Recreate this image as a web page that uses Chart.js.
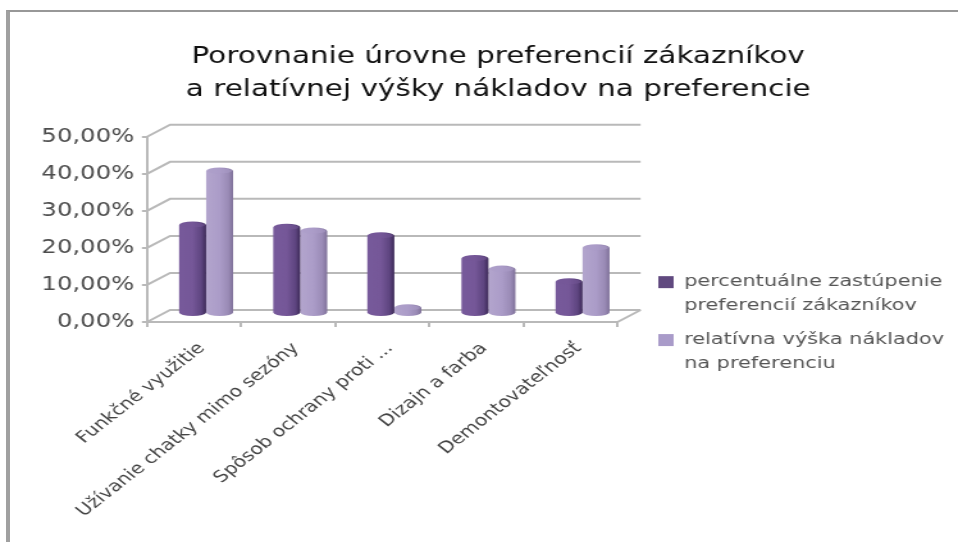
<!DOCTYPE html>
<html>
<head>
<meta charset="utf-8">
<style>
  html, body { margin: 0; padding: 0; background: #fff; overflow: hidden; }
  #frame { position: absolute; left: 6px; top: 10px; right: 0; bottom: 0; border-left: 4px solid #a0a0a0; border-top: 2px solid #989898; }
  /* The chart is drawn narrow and widened as a whole, which also widens its lettering. */
  #wrap { position: absolute; left: 0; top: 0; width: 748px; height: 542px; transform: scaleX(1.2807); transform-origin: 0 0; }
</style>
<script src="https://cdn.jsdelivr.net/npm/chart.js@4/dist/chart.umd.min.js"></script>
</head>
<body>
<div id="frame"></div>
<div id="wrap"><canvas id="c" width="748" height="542"></canvas></div>
<script>
const categories = ['Funkčné využitie', 'Užívanie chatky mimo sezóny', 'Spôsob ochrany proti ...', 'Dizajn a farba', 'Demontovateľnosť'];
const customerShare = [25.5, 24.9, 22.6, 16.5, 10.2];
const relativeCost = [40.1, 23.9, 3.2, 13.6, 19.4];
const seriesNames = [['percentuálne zastúpenie', 'preferencií zákazníkov'], ['relatívna výška nákladov', 'na preferenciu']];
const titleLines = ['Porovnanie úrovne preferencií zákazníkov', 'a relatívnej výšky nákladov na preferencie'];

// Oblique depth of the pseudo-3D floor and the plane the columns stand on.
const DEPTH_X = 18, DEPTH_Y = -12;
const BAR_SHIFT_X = 9.4, BAR_SHIFT_Y = -6;
const GRID = '#b9b9b9';
const SHADES = [
  ['#775a9b', '#755798', '#5e4580', '#3d2a58'],
  ['#b3a5cd', '#ab9cc8', '#9a8bb6', '#7f7199']
];

const depthFrame = {
  id: 'depthFrame',
  beforeDatasetsDraw(chart) {
    const { ctx, scales: { x, y } } = chart;
    ctx.save();
    ctx.strokeStyle = GRID;
    ctx.lineWidth = 2;
    y.ticks.forEach(t => {
      const py = y.getPixelForValue(t.value);
      ctx.beginPath();
      ctx.moveTo(x.left, py);
      ctx.lineTo(x.left + DEPTH_X, py + DEPTH_Y);
      ctx.lineTo(x.right + DEPTH_X, py + DEPTH_Y);
      ctx.stroke();
    });
    const base = y.getPixelForValue(0);
    ctx.beginPath();
    ctx.moveTo(x.right, base);
    ctx.lineTo(x.right + DEPTH_X, base + DEPTH_Y);
    ctx.stroke();
    ctx.restore();
  }
};

// Columns are painted as shaded cylinders from the geometry the bar elements computed.
const cylinders = {
  id: 'cylinders',
  beforeDatasetDraw(chart, args) {
    const { ctx } = chart;
    const shades = SHADES[args.index];
    args.meta.data.forEach(el => {
      const w = el.width, l = el.x - w / 2 + BAR_SHIFT_X, r = l + w;
      const ry = 3.5;
      const top = el.y + BAR_SHIFT_Y + ry, bot = el.base + BAR_SHIFT_Y - ry + 1;
      const g = ctx.createLinearGradient(l, 0, r, 0);
      g.addColorStop(0, shades[0]);
      g.addColorStop(0.5, shades[1]);
      g.addColorStop(0.82, shades[2]);
      g.addColorStop(1, shades[3]);
      ctx.save();
      ctx.fillStyle = g;
      ctx.beginPath();
      ctx.moveTo(l, top);
      ctx.lineTo(l, bot);
      ctx.ellipse(el.x + BAR_SHIFT_X, bot, w / 2, ry, 0, Math.PI, 0, true);
      ctx.lineTo(r, top);
      ctx.ellipse(el.x + BAR_SHIFT_X, top, w / 2, ry, 0, 0, Math.PI, true);
      ctx.closePath();
      ctx.fill();
      ctx.fillStyle = shades[1];
      ctx.globalAlpha = 0.55;
      ctx.beginPath();
      ctx.ellipse(el.x + BAR_SHIFT_X, top, w / 2 - 1, ry - 1, 0, 0, Math.PI * 2);
      ctx.fill();
      ctx.restore();
    });
    return false;
  }
};

// Title and legend sit outside the plot's own column, so their boxes are moved after layout.
const placeBlocks = {
  id: 'placeBlocks',
  afterLayout(chart) {
    const t = chart.titleBlock;
    t.left = 30; t.right = 748; t.width = 718;
    const lg = chart.legend;
    lg.left = 504; lg.right = 748; lg.width = 244;
    lg.top = 264; lg.bottom = 385; lg.height = 121;
  }
};

new Chart(document.getElementById('c'), {
  type: 'bar',
  data: {
    labels: categories,
    datasets: [
      { label: seriesNames[0], data: customerShare, backgroundColor: '#60497f' },
      { label: seriesNames[1], data: relativeCost, backgroundColor: '#a99bc9' }
    ]
  },
  plugins: [depthFrame, cylinders, placeBlocks],
  options: {
    responsive: false,
    animation: false,
    layout: { padding: { left: 0, right: 265.8, top: 0, bottom: 0 } },
    datasets: { bar: { categoryPercentage: 0.574, barPercentage: 1 } },
    plugins: {
      tooltip: { enabled: false },
      title: {
        display: true,
        text: titleLines,
        color: '#111',
        font: { family: 'DejaVu Sans', size: 23, weight: 'normal', lineHeight: 1.43 },
        padding: { top: 40.5, bottom: 30.5 }
      },
      legend: {
        position: 'chartArea',
        align: 'start',
        labels: {
          color: '#555',
          boxWidth: 12,
          boxHeight: 12,
          padding: 10,
          font: { family: 'DejaVu Sans', size: 16.3, lineHeight: 1.47 },
          generateLabels: chart => chart.data.datasets.map((d, i) => ({
            text: d.label, fillStyle: d.backgroundColor, strokeStyle: d.backgroundColor,
            fontColor: '#555', lineWidth: 0, datasetIndex: i
          }))
        }
      }
    },
    scales: {
      x: {
        afterFit(s) { s.height = 220; },
        border: { color: GRID, width: 2 },
        grid: { drawOnChartArea: false, color: GRID, lineWidth: 2, tickLength: 5 },
        ticks: {
          color: '#444',
          autoSkip: false,
          minRotation: 45,
          maxRotation: 45,
          padding: 12,
          labelOffset: 6,
          font: { family: 'DejaVu Sans', size: 16 }
        }
      },
      y: {
        min: 0, max: 50,
        afterFit(s) { s.width = 114.8; },
        border: { color: GRID, width: 2 },
        grid: { drawOnChartArea: false, color: GRID, lineWidth: 2, tickLength: 4 },
        ticks: {
          stepSize: 10,
          color: '#4d4d4d',
          padding: 6,
          font: { family: 'DejaVu Sans', size: 19 },
          callback: v => v.toFixed(2).replace('.', ',') + '%'
        }
      }
    }
  }
});
</script>
</body>
</html>
